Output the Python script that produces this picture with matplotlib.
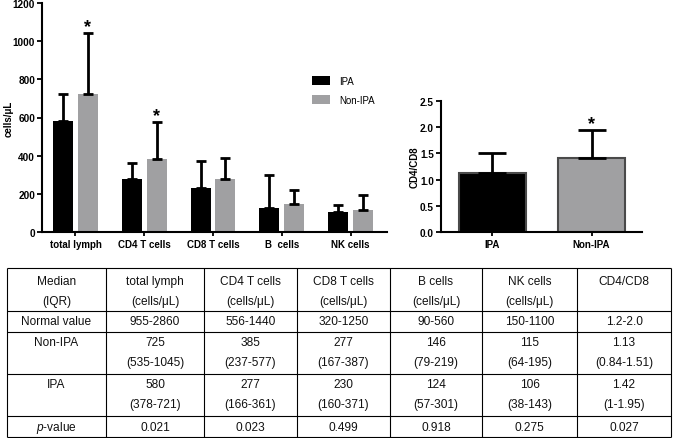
import matplotlib
matplotlib.use("Agg")
import matplotlib.pyplot as plt
import numpy as np
from matplotlib.patches import Patch

plt.rcParams['font.family'] = ['Liberation Sans', 'DejaVu Sans']
plt.rcParams['mathtext.fontset'] = 'custom'
plt.rcParams['mathtext.it'] = 'Liberation Sans:italic'
plt.rcParams['mathtext.rm'] = 'Liberation Sans'

# ---------------- data ----------------
categories = ["total lymph", "CD4 T cells", "CD8 T cells", "B  cells", "NK cells"]
ipa_median = [580, 277, 230, 124, 106]
ipa_upper = [721, 361, 371, 301, 143]
nonipa_median = [725, 385, 277, 146, 115]
nonipa_upper = [1045, 577, 387, 219, 195]
star_nonipa = [True, True, False, False, False]

ratio_groups = ["IPA", "Non-IPA"]
ratio_median = [1.13, 1.42]
ratio_upper = [1.51, 1.95]
ratio_star = [False, True]

yticks_left = [0, 200, 400, 600, 800, 1000, 1200]
yticks_right = [0.0, 0.5, 1.0, 1.5, 2.0, 2.5]

tbl_corner = ["Median", "(IQR)"]
tbl_headers = ["total lymph", "CD4 T cells", "CD8 T cells", "B cells", "NK cells", "CD4/CD8"]
tbl_units = ["(cells/μL)", "(cells/μL)", "(cells/μL)", "(cells/μL)", "(cells/μL)", ""]
tbl_normal = ["955-2860", "556-1440", "320-1250", "90-560", "150-1100", "1.2-2.0"]
tbl_nonipa_med = ["725", "385", "277", "146", "115", "1.13"]
tbl_nonipa_iqr = ["(535-1045)", "(237-577)", "(167-387)", "(79-219)", "(64-195)", "(0.84-1.51)"]
tbl_ipa_med = ["580", "277", "230", "124", "106", "1.42"]
tbl_ipa_iqr = ["(378-721)", "(166-361)", "(160-371)", "(57-301)", "(38-143)", "(1-1.95)"]
tbl_p = ["0.021", "0.023", "0.499", "0.918", "0.275", "0.027"]

BLACK = "#000000"
GREY = "#A0A0A2"

W, H = 676, 439
fig = plt.figure(figsize=(W / 100, H / 100), dpi=100)

def fx(px):
    return px / W

def fy(py):
    return 1 - py / H

# ---------------- table (pixel coordinate axes) ----------------
tax = fig.add_axes([0, 0, 1, 1])
tax.set_xlim(0, W)
tax.set_ylim(H, 0)
tax.axis("off")
col_x = [7, 106, 204, 297, 390, 482, 577, 671]
row_y = [269, 312, 333, 375, 417, 438]
for xx in col_x:
    tax.plot([xx, xx], [row_y[0], row_y[-1]], color="black", lw=0.8, solid_capstyle="butt")
for yy in row_y:
    tax.plot([col_x[0], col_x[-1]], [yy, yy], color="black", lw=0.8, solid_capstyle="butt")
tfs = 8.6
centers = [(col_x[i] + col_x[i + 1]) / 2 for i in range(len(col_x) - 1)]

def cell(ci, y, s):
    tax.text(centers[ci], y, s, ha="center", va="center", fontsize=tfs, color="#111111")

cell(0, 282, tbl_corner[0]); cell(0, 302, tbl_corner[1])
cell(0, 322.5, "Normal value")
cell(0, 343, "Non-IPA")
cell(0, 385, "IPA")
cell(0, 428, "$p$-value")
for i in range(6):
    cell(i + 1, 282, tbl_headers[i])
    if tbl_units[i]:
        cell(i + 1, 302, tbl_units[i])
    cell(i + 1, 322.5, tbl_normal[i])
    cell(i + 1, 343, tbl_nonipa_med[i])
    cell(i + 1, 363, tbl_nonipa_iqr[i])
    cell(i + 1, 385, tbl_ipa_med[i])
    cell(i + 1, 405, tbl_ipa_iqr[i])
    cell(i + 1, 428, tbl_p[i])

# ---------------- left bar chart ----------------
ax = fig.add_axes([fx(42), fy(233), fx(387) - fx(42), fy(4) - fy(233)])
x = np.arange(len(categories))
bw = 0.29
off = 0.18
ipa_err = np.array(ipa_upper) - np.array(ipa_median)
non_err = np.array(nonipa_upper) - np.array(nonipa_median)
ekw = dict(elinewidth=2.0, capthick=2.0, ecolor="black")
ax.bar(x - off, ipa_median, bw, color=BLACK, yerr=[np.zeros_like(ipa_err), ipa_err],
       capsize=3.4, error_kw=ekw, label="IPA", zorder=2)
ax.bar(x + off, nonipa_median, bw, color=GREY, yerr=[np.zeros_like(non_err), non_err],
       capsize=3.4, error_kw=ekw, label="Non-IPA", zorder=2)
for i, s in enumerate(star_nonipa):
    if s:
        ax.text(x[i] + off, nonipa_upper[i] + 8, "*", ha="center", va="baseline",
                fontsize=13, fontweight="bold")
ax.set_xlim(-0.487, 4.53)
ax.set_ylim(0, 1200)
ax.set_yticks(yticks_left)
ax.set_xticks(x)
ax.set_xticklabels(categories, fontsize=7, fontweight="bold")
ax.tick_params(axis="y", labelsize=7.2, length=3.5, width=1.3, pad=1.5)
ax.tick_params(axis="x", length=3, width=1.3, pad=2)
for lab in ax.get_yticklabels():
    lab.set_fontweight("bold")
for sp in ["top", "right"]:
    ax.spines[sp].set_visible(False)
for sp in ["left", "bottom"]:
    ax.spines[sp].set_linewidth(1.5)
ax.set_ylabel("cells/μL", fontsize=7, fontweight="bold", va="center")
ax.yaxis.set_label_coords(-0.098, 0.5)

handles = [Patch(facecolor=BLACK, label="IPA"), Patch(facecolor=GREY, label="Non-IPA")]
fig.legend(handles=handles, loc="upper left", bbox_to_anchor=(fx(308), fy(73)),
           frameon=False, fontsize=7, handlelength=1.9, handleheight=1.1,
           labelspacing=0.95, handletextpad=0.9, borderaxespad=0)

# ---------------- right bar chart ----------------
ax2 = fig.add_axes([fx(441), fy(233), fx(642) - fx(441), fy(102) - fy(233)])
xr = np.arange(len(ratio_groups))
r_err = np.array(ratio_upper) - np.array(ratio_median)
ax2.bar(xr, ratio_median, 0.677, color=[BLACK, GREY], edgecolor="#4a4a4a", linewidth=1.5,
        yerr=[np.zeros_like(r_err), r_err], capsize=10, error_kw=ekw, zorder=2)
for i, s in enumerate(ratio_star):
    if s:
        ax2.text(xr[i], ratio_upper[i] + 0.03, "*", ha="center", va="baseline",
                 fontsize=13, fontweight="bold")
ax2.set_xlim(-0.52, 1.51)
ax2.set_ylim(0, 2.5)
ax2.set_yticks(yticks_right)
ax2.set_yticklabels([f"{v:.1f}" for v in yticks_right])
ax2.set_xticks(xr)
ax2.set_xticklabels(ratio_groups, fontsize=7, fontweight="bold")
ax2.tick_params(axis="y", labelsize=7.2, length=3.5, width=1.3, pad=1.5)
ax2.tick_params(axis="x", length=3, width=1.3, pad=2)
for lab in ax2.get_yticklabels():
    lab.set_fontweight("bold")
for sp in ["top", "right"]:
    ax2.spines[sp].set_visible(False)
for sp in ["left", "bottom"]:
    ax2.spines[sp].set_linewidth(1.5)
ax2.set_ylabel("CD4/CD8", fontsize=7, fontweight="bold", va="center")
ax2.yaxis.set_label_coords(-0.129, 0.5)

fig.savefig("out.png", dpi=100)
